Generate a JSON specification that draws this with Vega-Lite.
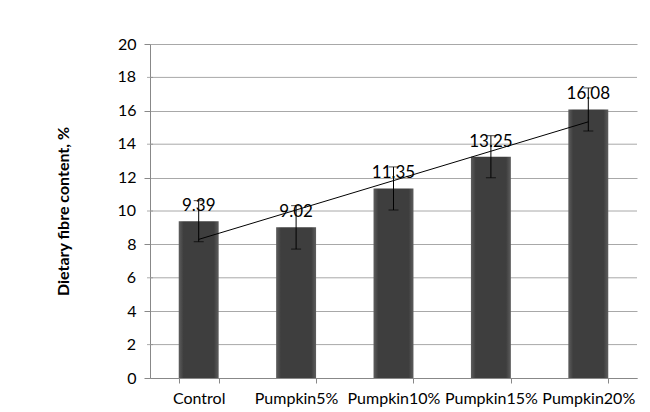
{
  "$schema": "https://vega.github.io/schema/vega-lite/v6.json",
  "width": 487,
  "height": 334,
  "autosize": {"type": "none"},
  "padding": {"left": 150, "top": 44, "right": 13, "bottom": 34},
  "background": "white",
  "config": {
    "view": {"stroke": null},
    "font": "Lato",
    "axis": {"labelFont": "Lato", "titleFont": "Lato", "labelColor": "#000", "titleColor": "#000"}
  },
  "datasets": {
    "fibre": [
      {"group": "Control", "fibre": 9.39, "lo": 8.16, "hi": 10.62, "trend": 8.30},
      {"group": "Pumpkin5%", "fibre": 9.02, "lo": 7.72, "hi": 10.32, "trend": 10.06},
      {"group": "Pumpkin10%", "fibre": 11.35, "lo": 10.06, "hi": 12.64, "trend": 11.82},
      {"group": "Pumpkin15%", "fibre": 13.25, "lo": 11.99, "hi": 14.51, "trend": 13.58},
      {"group": "Pumpkin20%", "fibre": 16.08, "lo": 14.79, "hi": 17.37, "trend": 15.34}
    ],
    "yticks": [
      {"tick": 2}, {"tick": 6}, {"tick": 10}, {"tick": 14}, {"tick": 18}
    ]
  },
  "layer": [
    {
      "data": {"name": "yticks"},
      "mark": {"type": "rule", "color": "#a8a8a8", "strokeWidth": 1},
      "encoding": {
        "y": {"field": "tick", "type": "quantitative", "scale": {"domain": [0, 20], "nice": false}, "title": "Dietary fibre content, %"}
      }
    },
    {
      "data": {"name": "yticks"},
      "mark": {"type": "text", "align": "right", "baseline": "middle", "dx": -14, "fontSize": 16, "font": "Lato", "color": "#000"},
      "encoding": {
        "x": {"value": 0},
        "y": {"field": "tick", "type": "quantitative", "title": "Dietary fibre content, %"},
        "text": {"field": "tick", "type": "quantitative"}
      }
    },
    {
      "data": {"name": "yticks"},
      "mark": {"type": "tick", "orient": "horizontal", "color": "#888", "thickness": 1, "size": 6, "dx": -3},
      "encoding": {
        "x": {"value": 0},
        "y": {"field": "tick", "type": "quantitative", "title": "Dietary fibre content, %"}
      }
    },
    {
      "data": {"name": "fibre"},
      "encoding": {
        "x": {
          "field": "group", "type": "nominal", "sort": null,
          "scale": {"paddingInner": 0.59, "paddingOuter": 0.295},
          "axis": {
            "title": null, "labelAngle": 0, "labelFontSize": 16, "labelPadding": 7,
            "tickBand": "extent", "tickColor": "#888", "tickSize": 5,
            "domainColor": "#888", "grid": false
          }
        },
        "y": {
          "field": "fibre", "type": "quantitative",
          "title": "Dietary fibre content, %",
          "axis": {
            "values": [0, 2, 4, 6, 8, 10, 12, 14, 16, 18, 20],
            "labelOverlap": false,
            "titleFontSize": 16, "titleFontWeight": "bold", "titlePadding": 46,
            "labelFontSize": 16, "labelPadding": 8,
            "tickSize": 6, "tickColor": "#888", "domainColor": "#888",
            "grid": true, "gridColor": "#a8a8a8"
          }
        }
      },
      "layer": [
        {
          "mark": {
            "type": "bar",
            "fill": {
              "gradient": "linear", "x1": 0, "x2": 1, "y1": 0, "y2": 0,
              "stops": [
                {"offset": 0, "color": "#5e5e5e"},
                {"offset": 0.12, "color": "#3e3e3e"},
                {"offset": 0.88, "color": "#3e3e3e"},
                {"offset": 1, "color": "#5e5e5e"}
              ]
            }
          }
        },
        {
          "mark": {"type": "line", "color": "#000", "strokeWidth": 1},
          "encoding": {"y": {"field": "trend", "type": "quantitative", "title": "Dietary fibre content, %"}}
        },
        {
          "mark": {"type": "text", "baseline": "bottom", "dy": -6, "fontSize": 17, "font": "Lato", "color": "#000"},
          "encoding": {"text": {"field": "fibre", "type": "quantitative", "format": ".2f"}}
        },
        {
          "mark": {"type": "rule", "color": "#000", "strokeWidth": 1},
          "encoding": {
            "y": {"field": "lo", "type": "quantitative", "title": "Dietary fibre content, %"},
            "y2": {"field": "hi"}
          }
        },
        {
          "mark": {"type": "tick", "color": "#000", "thickness": 1, "size": 10, "orient": "horizontal"},
          "encoding": {"y": {"field": "lo", "type": "quantitative", "title": "Dietary fibre content, %"}}
        },
        {
          "mark": {"type": "tick", "color": "#000", "thickness": 1, "size": 10, "orient": "horizontal"},
          "encoding": {"y": {"field": "hi", "type": "quantitative", "title": "Dietary fibre content, %"}}
        }
      ]
    }
  ]
}
